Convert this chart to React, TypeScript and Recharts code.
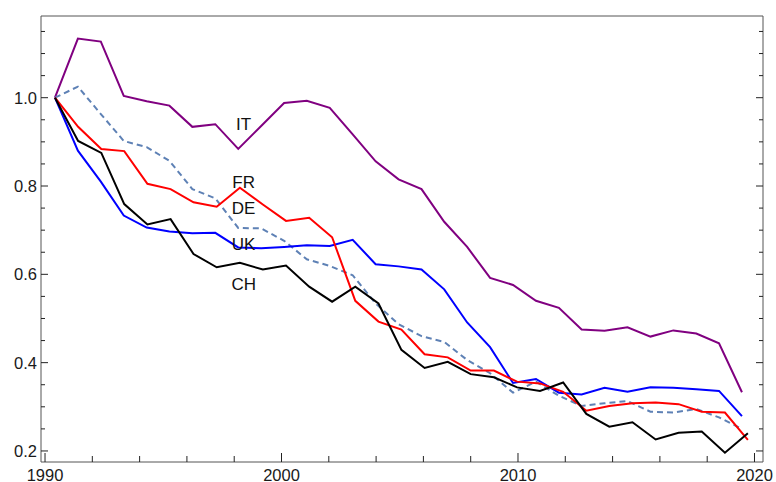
import { LineChart, Line, XAxis, YAxis, ReferenceDot } from "recharts";

// x positions of the yearly points (two slightly different grids in the source)
const yearsA = [
  1990.42, 1991.39, 1992.36, 1993.33, 1994.3, 1995.26, 1996.23, 1997.2, 1998.17, 1999.14,
  2000.11, 2001.07, 2002.04, 2003.01, 2003.98, 2004.95, 2005.92, 2006.88, 2007.85, 2008.82,
  2009.79, 2010.76, 2011.73, 2012.69, 2013.66, 2014.63, 2015.6, 2016.57, 2017.54, 2018.5,
  2019.47,
];
const yearsB = [
  1990.42, 1991.4, 1992.38, 1993.35, 1994.33, 1995.31, 1996.28, 1997.26, 1998.24, 1999.21,
  2000.19, 2001.17, 2002.14, 2003.12, 2004.1, 2005.07, 2006.05, 2007.03, 2008.0, 2008.98,
  2009.96, 2010.93, 2011.91, 2012.89, 2013.86, 2014.84, 2015.82, 2016.79, 2017.77, 2018.75,
  2019.72,
];

const itValues = [
  1.0, 1.134, 1.127, 1.004, 0.992, 0.982, 0.934, 0.94, 0.884, 0.936,
  0.988, 0.993, 0.977, 0.917, 0.856, 0.815, 0.793, 0.719, 0.662, 0.592,
  0.576, 0.54, 0.524, 0.475, 0.472, 0.48, 0.459, 0.473, 0.466, 0.444,
  0.333,
];
const deValues = [
  1.0, 1.025, 0.963, 0.902, 0.888, 0.857, 0.793, 0.772, 0.705, 0.704,
  0.676, 0.634, 0.619, 0.598, 0.534, 0.487, 0.46, 0.447, 0.406, 0.376,
  0.332, 0.357, 0.325, 0.302, 0.308, 0.313, 0.289, 0.287, 0.295, 0.276,
  0.25,
];
const ukValues = [
  1.0, 0.88, 0.81, 0.733, 0.706, 0.697, 0.693, 0.694, 0.661, 0.659,
  0.662, 0.666, 0.664, 0.678, 0.623, 0.618, 0.611, 0.566, 0.491, 0.435,
  0.354, 0.363, 0.332, 0.328, 0.343, 0.334, 0.344, 0.343, 0.34, 0.336,
  0.279,
];
const frValues = [
  1.0, 0.934, 0.884, 0.879, 0.805, 0.793, 0.763, 0.753, 0.796, 0.758,
  0.721, 0.728, 0.684, 0.54, 0.493, 0.475, 0.419, 0.412, 0.382, 0.382,
  0.357, 0.353, 0.334, 0.291, 0.302, 0.308, 0.31, 0.306, 0.289, 0.287,
  0.225,
];
const chValues = [
  1.0, 0.902, 0.875, 0.759, 0.713, 0.725, 0.646, 0.616, 0.626, 0.611,
  0.62, 0.572, 0.538, 0.572, 0.534, 0.429, 0.388, 0.402, 0.374, 0.367,
  0.344, 0.336, 0.355, 0.284, 0.255, 0.265, 0.226, 0.241, 0.244, 0.196,
  0.24,
];

const xTicks = [1990, 1992, 1994, 1996, 1998, 2000, 2002, 2004, 2006, 2008, 2010, 2012, 2014, 2016, 2018, 2020];
const xMajor = [1990, 2000, 2010, 2020];
const yTicks = [0.2, 0.25, 0.3, 0.35, 0.4, 0.45, 0.5, 0.55, 0.6, 0.65, 0.7, 0.75, 0.8, 0.85, 0.9, 0.95, 1.0, 1.05, 1.1, 1.15];
const yMajor = [0.2, 0.4, 0.6, 0.8, 1.0];

const countryLabels = [
  { name: "IT", x: 1998.4, y: 0.94 },
  { name: "FR", x: 1998.4, y: 0.809 },
  { name: "DE", x: 1998.4, y: 0.75 },
  { name: "UK", x: 1998.4, y: 0.669 },
  { name: "CH", x: 1998.4, y: 0.578 },
];

const font = '"Liberation Sans", Arial, sans-serif';
const tickColor = "#222";

const toPoints = (xs: number[], vs: number[]) => xs.map((x, i) => ({ x, v: vs[i] }));
const isMajor = (v: number, majors: number[]) => majors.some((m) => Math.abs(m - v) < 1e-6);

function BottomTick(props: any) {
  const { x, y, payload } = props;
  const major = isMajor(payload.value, xMajor);
  return (
    <g>
      <line x1={x} x2={x} y1={y} y2={y - (major ? 9 : 6)} stroke={tickColor} />
      {major && (
        <text x={x} y={y + 18.5} textAnchor="middle" fontSize={16.5} fontFamily={font} fill="#1a1a1a">
          {payload.value}
        </text>
      )}
    </g>
  );
}

function TopTick(props: any) {
  const { x, y, payload } = props;
  const major = isMajor(payload.value, xMajor);
  return <line x1={x} x2={x} y1={y} y2={y + (major ? 9 : 6)} stroke={tickColor} />;
}

function LeftTick(props: any) {
  const { x, y, payload } = props;
  const major = isMajor(payload.value, yMajor);
  return (
    <g>
      <line x1={x} x2={x + (major ? 7 : 4)} y1={y} y2={y} stroke={tickColor} />
      {major && (
        <text x={x - 4} y={y} dy="0.36em" textAnchor="end" fontSize={16.5} fontFamily={font} fill="#1a1a1a">
          {payload.value.toFixed(1)}
        </text>
      )}
    </g>
  );
}

function RightTick(props: any) {
  const { x, y, payload } = props;
  const major = isMajor(payload.value, yMajor);
  return <line x1={x} x2={x - (major ? 7 : 4)} y1={y} y2={y} stroke={tickColor} />;
}

export default function App() {
  const xDomain = [1989.83, 2020.36];
  const yDomain = [0.175, 1.185];
  const axisLine = { stroke: "#555", strokeWidth: 1 };

  return (
    <div style={{ position: "absolute", left: 0, top: 0, background: "#fff" }}>
      <LineChart width={776} height={482} margin={{ top: 0, right: 0, bottom: 0, left: 0 }}>
        <XAxis
          dataKey="x"
          type="number"
          domain={xDomain}
          allowDataOverflow
          ticks={xTicks}
          interval={0}
          height={20}
          tickSize={0}
          tickMargin={0}
          tick={BottomTick}
          axisLine={axisLine}
        />
        <XAxis
          xAxisId="top"
          orientation="top"
          type="number"
          domain={xDomain}
          allowDataOverflow
          ticks={xTicks}
          interval={0}
          height={16}
          tickSize={0}
          tickMargin={0}
          tick={TopTick}
          axisLine={axisLine}
        />
        <YAxis
          type="number"
          domain={yDomain}
          allowDataOverflow
          ticks={yTicks}
          interval={0}
          width={41}
          tickSize={0}
          tickMargin={0}
          tick={LeftTick}
          axisLine={axisLine}
        />
        <YAxis
          yAxisId="right"
          orientation="right"
          type="number"
          domain={yDomain}
          allowDataOverflow
          ticks={yTicks}
          interval={0}
          width={13}
          tickSize={0}
          tickMargin={0}
          tick={RightTick}
          axisLine={axisLine}
        />
        <Line data={toPoints(yearsA, itValues)} dataKey="v" stroke="#800080" strokeWidth={2} dot={false} isAnimationActive={false} />
        <Line data={toPoints(yearsA, deValues)} dataKey="v" stroke="#5e81b5" strokeWidth={2} strokeDasharray="6 4" dot={false} isAnimationActive={false} />
        <Line data={toPoints(yearsA, ukValues)} dataKey="v" stroke="#0000ff" strokeWidth={2} dot={false} isAnimationActive={false} />
        <Line data={toPoints(yearsB, frValues)} dataKey="v" stroke="#ff0000" strokeWidth={2} dot={false} isAnimationActive={false} />
        <Line data={toPoints(yearsB, chValues)} dataKey="v" stroke="#000000" strokeWidth={2} dot={false} isAnimationActive={false} />
        {countryLabels.map((l) => (
          <ReferenceDot
            key={l.name}
            x={l.x}
            y={l.y}
            r={0}
            shape={(p: any) => (
              <text x={p.cx} y={p.cy} dy="0.36em" textAnchor="middle" fontSize={17} fontFamily={font} fill="#111">
                {l.name}
              </text>
            )}
          />
        ))}
      </LineChart>
    </div>
  );
}
